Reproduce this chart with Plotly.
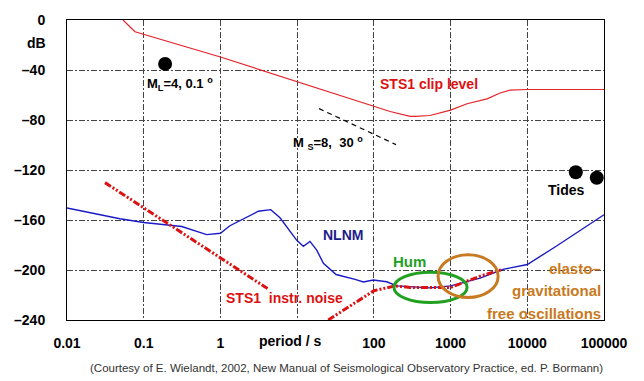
import numpy as np
import plotly.graph_objects as go

# ---------------- data ----------------
clip_period = [0.0537, 0.077, 1.0, 10, 100, 163, 297, 344, 540, 1000, 1640, 2990, 4420, 5970, 10000, 100000]
clip_db = [0, -9.4, -29.6, -49.1, -68.6, -73.2, -77.1, -77.1, -76.4, -72.1, -67.0, -63.1, -58.4, -56.1, -55.6, -55.6]

nlnm_period = [0.01, 0.049, 0.1, 0.313, 0.662, 1.0, 1.33, 2.09, 3.12, 4.53, 5.98, 9.89, 12.05, 14.7,
               18.0, 22.0, 32.2, 56.9, 73, 98.6, 147, 199, 541, 1000, 2427, 4830, 10000, 23000, 49000, 100000]
nlnm_db = [-150.4, -159, -162, -165.2, -171.7, -170.6, -164.6, -158.2, -153.0, -151.7, -158.2, -176.3, -181.0, -177.1,
           -184.1, -194.6, -203.6, -207.5, -209.6, -208.0, -209.4, -212.7, -214.3, -212.7, -206.5, -199.5, -195.6, -181.6, -168.3, -155.8]

sts1_noise_period = [0.0313, 4.17, None, 25.4, 100, 189, 297, 1000, 2427, 4660]
sts1_noise_db = [-130.1, -215.1, None, -240, -216.6, -212.7, -214.0, -214.0, -204.9, -199.7]

ms8_period = [19.3, 194.5]
ms8_db = [-70.9, -99.7]

ml_period = [0.19]
ml_db = [-35.1]

tides_period = [42900, 80500]
tides_db = [-121.8, -126.2]

hum_period = [183, 1640]
hum_db = [-226, -201.8]
efo_period = [687, 4170]
efo_db = [-222, -187.8]

x_tickvals = [0.01, 0.1, 1, 10, 100, 1000, 10000, 100000]
x_ticktext = ["0.01", "0.1", "1", " ", "100", "1000", "10000", "100000"]
y_tickvals = [0, -40, -80, -120, -160, -200, -240]
y_ticktext = ["0", "\u201340", "\u201380", "\u2013120", "\u2013160", "\u2013200", "\u2013240"]

# ---------------- layout geometry ----------------
W, H = 644, 381
L, R, T, B = 67, 604, 12, 320
FONT = "Liberation Sans, Arial, Helvetica, sans-serif"


def px(xp):
    return (xp - L) / (R - L)


def py(yp):
    return (B - yp) / (B - T)


fig = go.Figure()

fig.add_trace(go.Scatter(x=clip_period, y=clip_db, mode="lines",
                         line=dict(color="#e3242b", width=1.2), hoverinfo="skip"))
fig.add_trace(go.Scatter(x=nlnm_period, y=nlnm_db, mode="lines",
                         line=dict(color="#1a1ac4", width=1.4), hoverinfo="skip"))
fig.add_trace(go.Scatter(x=sts1_noise_period, y=sts1_noise_db, mode="lines", connectgaps=False,
                         line=dict(color="#dd1111", width=3, dash="7px,2px,2px,2px,2px,2px"), hoverinfo="skip"))
fig.add_trace(go.Scatter(x=ms8_period, y=ms8_db, mode="lines",
                         line=dict(color="black", width=1.2, dash="5px,4px"), hoverinfo="skip"))
fig.add_trace(go.Scatter(x=ml_period, y=ml_db, mode="markers",
                         marker=dict(color="black", size=14), hoverinfo="skip"))
fig.add_trace(go.Scatter(x=tides_period, y=tides_db, mode="markers",
                         marker=dict(color="black", size=14), hoverinfo="skip"))

fig.add_shape(type="circle", xref="x", yref="y", x0=hum_period[0], x1=hum_period[1],
              y0=hum_db[0], y1=hum_db[1], line=dict(color="#22a022", width=3))
fig.add_shape(type="circle", xref="x", yref="y", x0=efo_period[0], x1=efo_period[1],
              y0=efo_db[0], y1=efo_db[1], line=dict(color="#c87a22", width=3))

ann = []


def A(text, xp, yp, size=14, color="black", xanchor="center", bold=True, yanchor="middle"):
    ann.append(dict(text=text, x=px(xp), y=py(yp), xref="paper", yref="paper",
                    xanchor=xanchor, yanchor=yanchor, showarrow=False,
                    font=dict(family=FONT, size=size, color=color, weight="bold" if bold else "normal")))


A("dB", 48, 36, xanchor="right")
A("M<sub>L</sub>=4, 0.1 <sup>o</sup>", 145, 78, size=13, xanchor="left")
A("M <sub>S</sub>=8,  30 <sup>o</sup>", 291, 138, size=13, xanchor="left")
A("STS1 clip level", 378, 78, color="#dd1111", xanchor="left")
A("Tides", 566, 187)
A("NLNM", 343, 233, color="#1c1c8c")
A("Hum", 409, 260, size=15, color="#22a022")
A("STS1  instr. noise", 284, 297, color="#dd1111")
A("elasto\u2013", 603, 267, size=15, color="#c87a22", xanchor="right")
A("gravitational", 603, 290, size=15, color="#c87a22", xanchor="right")
A("free oscillations", 603, 313, size=15, color="#c87a22", xanchor="right")
A("period / s", 290, 342)
A("(Courtesy of E. Wielandt, 2002, New Manual of Seismological Observatory Practice, ed. P. Bormann)",
  346, 369, size=11.5, color="#333333", bold=False)

grid_dash = "6px,2px,2px,2px"
fig.update_layout(
    width=W, height=H,
    margin=dict(l=L, r=W - R, t=T, b=H - B),
    paper_bgcolor="white", plot_bgcolor="white",
    showlegend=False,
    font=dict(family=FONT, color="black"),
    annotations=ann,
    xaxis=dict(type="log", range=[-2, 5], tickvals=x_tickvals, ticktext=x_ticktext,
               showgrid=True, gridcolor="#444444", gridwidth=1, griddash=grid_dash,
               showline=True, mirror=True, linecolor="black", linewidth=1,
               ticks="", zeroline=False, ticklabelstandoff=10,
               tickfont=dict(family=FONT, size=14, color="black", weight="bold")),
    yaxis=dict(range=[-240, 0], tickvals=y_tickvals, ticktext=y_ticktext,
               showgrid=True, gridcolor="#444444", gridwidth=1, griddash=grid_dash,
               showline=True, mirror=True, linecolor="black", linewidth=1,
               ticks="", zeroline=False, ticklabelstandoff=18,
               tickfont=dict(family=FONT, size=14, color="black", weight="bold")),
)

fig.write_html("out.html", config={"displayModeBar": False, "staticPlot": True},
               post_script="document.body.style.margin='0';document.body.style.overflow='hidden';")
